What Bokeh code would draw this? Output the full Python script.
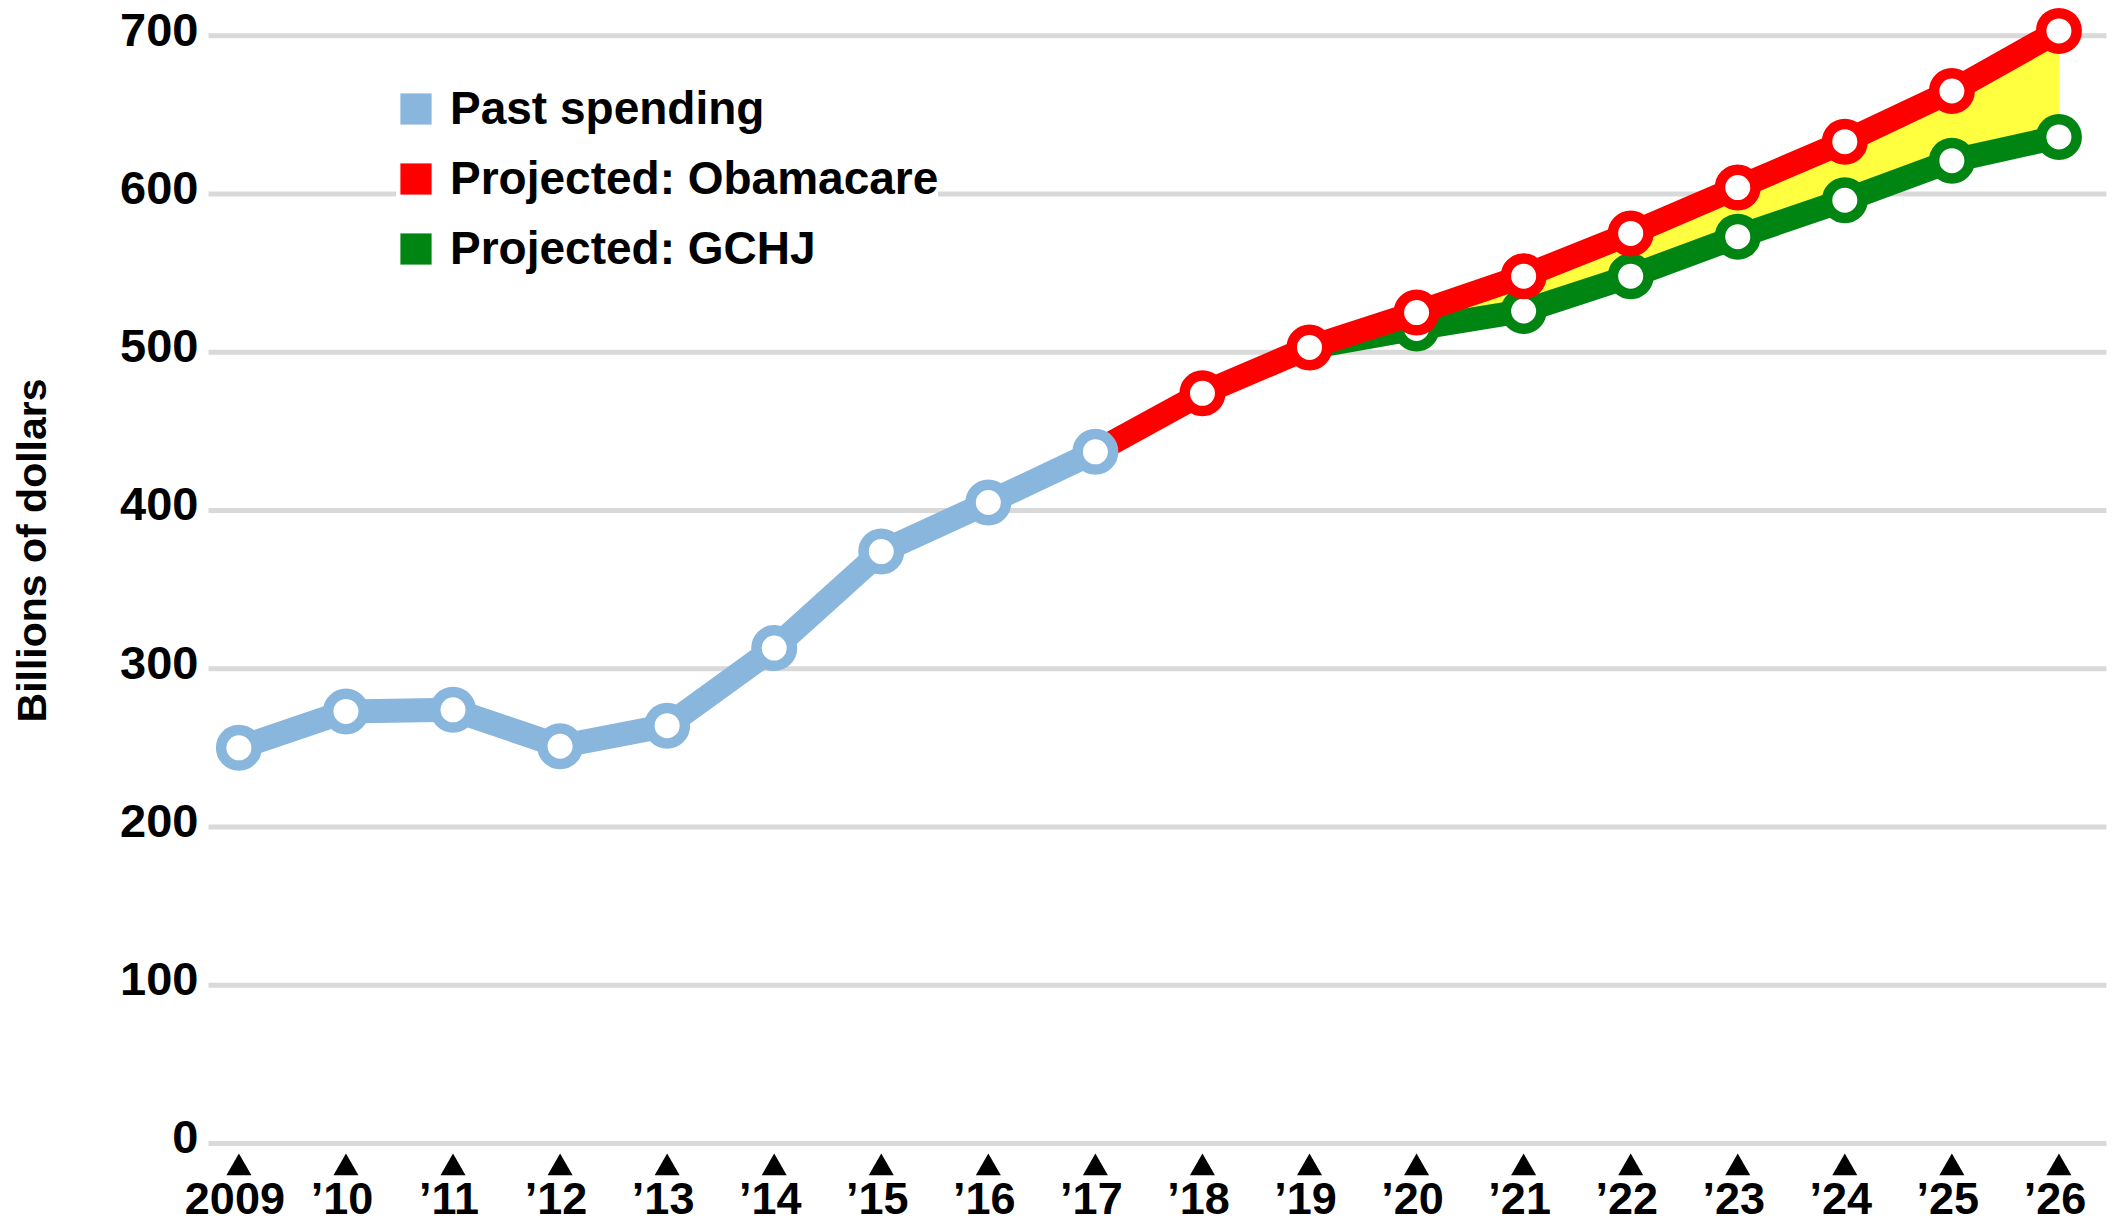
import math
from bokeh.plotting import figure
from bokeh.models import Range1d, Legend, LegendItem
from bokeh.core.properties import value
from bokeh.embed import file_html
from bokeh.resources import INLINE

# ---- data ----
past_years = [2009, 2010, 2011, 2012, 2013, 2014, 2015, 2016, 2017]
past_spending = [250, 273, 274, 251, 264, 313, 374, 405, 437]

obama_years = [2017, 2018, 2019, 2020, 2021, 2022, 2023, 2024, 2025, 2026]
obama_values = [437, 474, 503, 525, 548, 575, 604, 633, 665, 703]

gchj_years = [2019, 2020, 2021, 2022, 2023, 2024, 2025, 2026]
gchj_values = [503, 515, 526, 548, 573, 596, 621, 636]

tick_years = list(range(2009, 2027))
tick_labels = ["2009", "\u201910", "\u201911", "\u201912", "\u201913", "\u201914",
               "\u201915", "\u201916", "\u201917", "\u201918", "\u201919", "\u201920",
               "\u201921", "\u201922", "\u201923", "\u201924", "\u201925", "\u201926"]
y_ticks = [0, 100, 200, 300, 400, 500, 600, 700]
y_tick_labels = [str(t) for t in y_ticks]

legend_labels = ["Past spending", "Projected: Obamacare", "Projected: GCHJ"]
y_title = "Billions of dollars"

# ---- style / layout ----
BLUE = "#88B6DD"
RED = "#FF0000"
GREEN = "#008512"
YELLOW = "#FFFF40"
GRID = "#D9D9D9"
FONT = "Liberation Sans"
NAN = float("nan")

X0, X1 = 2006.7732, 2026.5191      # full-canvas x range (years)
Y0, Y1 = -53.1, 722.2              # full-canvas y range (billions)
GRID_X0, GRID_X1 = 2008.716, 2026.444
YLAB_X = 2008.6226
TITLE_X, TITLE_Y = 2007.0674, 374.7
XLAB_Y = -34.75
TRI_Y = -15.5

p = figure(width=2114, height=1227, output_backend="svg", toolbar_location=None,
           x_range=Range1d(X0, X1), y_range=Range1d(Y0, Y1),
           x_axis_location=None, y_axis_location=None,
           min_border_left=0, min_border_right=0,
           min_border_top=0, min_border_bottom=0)
p.outline_line_color = None
p.background_fill_color = "white"
p.border_fill_color = "white"
p.xgrid.visible = False
p.ygrid.visible = False

# horizontal gridlines
p.segment(x0=GRID_X0, x1=GRID_X1, y0=y_ticks, y1=y_ticks,
          line_color=GRID, line_width=5)

# y tick labels
p.text(YLAB_X, y_ticks, text=y_tick_labels, text_align="right",
       text_baseline="middle", text_font=value(FONT), text_font_style="bold",
       text_font_size="47px", text_color="black", y_offset=-6)

# y title
p.text(TITLE_X, TITLE_Y, text=[y_title], angle=math.pi / 2, text_align="center",
       text_baseline="middle", text_font=value(FONT), text_font_style="bold",
       text_font_size="41px", text_color="black")

# yellow gap between projections
obama_map = dict(zip(obama_years, obama_values))
p.varea(x=gchj_years, y1=gchj_values, y2=[obama_map[y] for y in gchj_years],
        fill_color=YELLOW)

LW = 24
MS = 35.5
MLW = 10.5

# GCHJ
p.line(gchj_years, gchj_values, line_color=GREEN, line_width=LW, line_join="round")
p.scatter(gchj_years[1:], gchj_values[1:], size=MS, fill_color="white",
          line_color=GREEN, line_width=MLW)
# Obamacare
p.line(obama_years, obama_values, line_color=RED, line_width=LW, line_join="round")
p.scatter(obama_years[1:], obama_values[1:], size=MS, fill_color="white",
          line_color=RED, line_width=MLW)
# Past
p.line(past_years, past_spending, line_color=BLUE, line_width=LW, line_join="round")
p.scatter(past_years, past_spending, size=MS, fill_color="white",
          line_color=BLUE, line_width=MLW)

# x ticks (triangles) and labels
p.scatter(tick_years, TRI_Y, marker="triangle", size=25, fill_color="black",
          line_color=None)
p.text(tick_years, XLAB_Y, text=tick_labels, text_align="center",
       text_baseline="alphabetic", text_font=value(FONT), text_font_style="bold",
       text_font_size="45px", text_color="black", x_offset=-4)

# legend
r1 = p.quad(left=[NAN], right=[NAN], top=[NAN], bottom=[NAN], fill_color=BLUE, line_color=None)
r2 = p.quad(left=[NAN], right=[NAN], top=[NAN], bottom=[NAN], fill_color=RED, line_color=None)
r3 = p.quad(left=[NAN], right=[NAN], top=[NAN], bottom=[NAN], fill_color=GREEN, line_color=None)
legend = Legend(items=[LegendItem(label=legend_labels[0], renderers=[r1]),
                       LegendItem(label=legend_labels[1], renderers=[r2]),
                       LegendItem(label=legend_labels[2], renderers=[r3])],
                location=(396, 952), glyph_width=39, glyph_height=39,
                label_standoff=15, label_text_font=FONT,
                label_text_font_style="bold", label_text_font_size="46px",
                label_text_color="black", spacing=16, padding=19, margin=0,
                border_line_color=None, background_fill_color="white",
                background_fill_alpha=1.0)
p.add_layout(legend)

open("out.html", "w").write(file_html(p, INLINE))
